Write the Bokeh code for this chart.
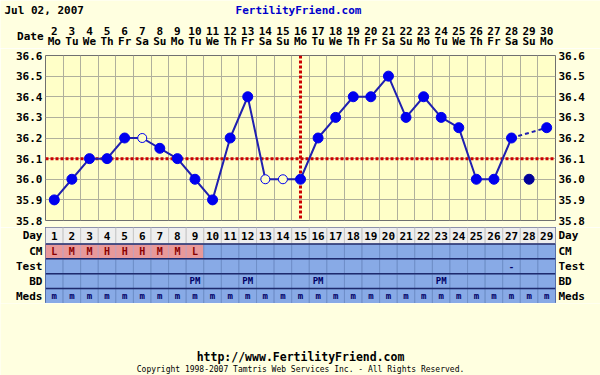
from bokeh.plotting import figure
from bokeh.models import (ColumnDataSource, FixedTicker, LinearAxis, Label, Span,
                          Range1d, NumeralTickFormatter)
from bokeh.layouts import column
from bokeh.embed import file_html
from bokeh.resources import INLINE
from bokeh.core.properties import value

# ---------------- data ----------------
days = list(range(1, 30))
dates = list(range(2, 31))
weekdays = ["Mo", "Tu", "We", "Th", "Fr", "Sa", "Su",
            "Mo", "Tu", "We", "Th", "Fr", "Sa", "Su",
            "Mo", "Tu", "We", "Th", "Fr", "Sa", "Su",
            "Mo", "Tu", "We", "Th", "Fr", "Sa", "Su", "Mo"]
temps = [35.9, 36.0, 36.1, 36.1, 36.2, 36.2, 36.15, 36.1, 36.0, 35.9,
         36.2, 36.4, 36.0, 36.0, 36.0, 36.2, 36.3, 36.4, 36.4, 36.5,
         36.3, 36.4, 36.3, 36.25, 36.0, 36.0, 36.2, 36.0, 36.25]
# f = filled, o = open (excluded), d = discarded (not connected)
marker_kind = ["f", "f", "f", "f", "f", "o", "f", "f", "f", "f",
               "f", "f", "o", "o", "f", "f", "f", "f", "f", "f",
               "f", "f", "f", "f", "f", "f", "f", "d", "f"]
temp_ticks = [35.8, 35.9, 36.0, 36.1, 36.2, 36.3, 36.4, 36.5, 36.6]
coverline = 36.1
ovulation_day = 15

cm = ["L", "M", "M", "H", "H", "H", "M", "M", "L"] + [""] * 20
test = [""] * 26 + ["-", "", ""]
bd_days = [9, 12, 16, 23]
meds = ["m"] * 29
row_names = ["Meds", "BD", "Test", "CM", "Day"]

chart_date = "Jul 02, 2007"
site = "FertilityFriend.com"
url = "http://www.FertilityFriend.com"
copyright_text = "Copyright 1998-2007 Tamtris Web Services Inc. - All Rights Reserved."

# ---------------- style / layout ----------------
BG = "#FFFFE0"
PLOT_BG = "#FFFFC8"
GRID = "#B0B09C"
LINE = "#2020B0"
DOT = "#0000EE"
RED = "#CC0000"
BLUE_CELL = "#88AAE6"
PINK_CELL = "#E8999A"
DAY_CELL = "#EEEEEE"
ROW_LINE = "#1E2A6E"
FONT = "DejaVu Sans Mono"

W = 600
FRAME_L = 45
FRAME_R = 555
N = len(days)
COLW = (FRAME_R - FRAME_L) / N

H1 = 48                  # header (title + dates)
P_TOP, P_FRAME, P_BOT = 7, 165, 7
H2 = P_TOP + P_FRAME + P_BOT   # temperature chart
H3 = 76                  # table
H4 = 375 - H1 - H2 - H3  # footer

COMMON = dict(output_backend="svg", toolbar_location=None,
              x_axis_location=None, y_axis_location=None,
              border_fill_color=BG)


def bold_label(**kw):
    base = dict(x_units="screen", y_units="screen", text_font=FONT,
                text_font_style="bold", text_font_size="11px",
                text_baseline="middle", text_color="black")
    base.update(kw)
    return Label(**base)


# ---------------- header ----------------
h = figure(width=W, height=H1,
           x_range=Range1d(0.5 - FRAME_L / COLW, N + 0.5 + (W - FRAME_R) / COLW),
           y_range=Range1d(H1, 0), frame_align=False,
           min_border=0, background_fill_color=BG, outline_line_color=None, **COMMON)
h.grid.visible = False
hdr = ColumnDataSource(dict(x=days, d=[str(v) for v in dates], w=weekdays))
h.text(x="x", y=30.5, text="d", source=hdr, text_font=value(FONT), text_font_style="bold",
       text_font_size="11px", text_align="center", text_baseline="middle")
h.text(x="x", y=41.3, text="w", source=hdr, text_font=value(FONT), text_font_style="bold",
       text_font_size="11px", text_align="center", text_baseline="middle")
h.add_layout(bold_label(x=4, y=H1 - 10, text=chart_date, text_align="left"))
h.add_layout(bold_label(x=298, y=H1 - 10, text=site, text_align="center",
                        text_color="#0000CC"))
h.add_layout(bold_label(x=43, y=H1 - 36, text="Date", text_align="right"))

# ---------------- temperature chart ----------------
p = figure(width=W, height=H2, x_range=Range1d(0.5, N + 0.5), y_range=Range1d(35.8, 36.6),
           min_border_left=FRAME_L, min_border_right=W - FRAME_R,
           min_border_top=P_TOP, min_border_bottom=P_BOT,
           background_fill_color=PLOT_BG, outline_line_color="#707070", **COMMON)
p.xgrid.ticker = FixedTicker(ticks=[d + 0.5 for d in days[:-1]])
p.ygrid.ticker = FixedTicker(ticks=temp_ticks)
p.grid.grid_line_color = GRID
p.grid.grid_line_width = 1


def style_axis(ax, size="11px"):
    ax.axis_line_color = None
    ax.major_tick_line_color = None
    ax.minor_tick_line_color = None
    ax.major_tick_out = 0
    ax.major_tick_in = 0
    ax.major_label_text_font = FONT
    ax.major_label_text_font_style = "bold"
    ax.major_label_text_font_size = size
    ax.major_label_text_color = "black"
    ax.major_label_standoff = 3


for side in ("left", "right"):
    ax = LinearAxis(ticker=FixedTicker(ticks=temp_ticks),
                    formatter=NumeralTickFormatter(format="0.0"))
    style_axis(ax)
    p.add_layout(ax, side)

p.add_layout(Span(location=coverline, dimension="width", line_color=RED,
                  line_dash="3 2", line_width=3, level="underlay"))
p.add_layout(Span(location=ovulation_day, dimension="height", line_color=RED,
                  line_dash="3 2", line_width=3, level="underlay"))

solid_x = [d for d, k in zip(days, marker_kind) if k != "d" and d <= 27]
solid_y = [temps[d - 1] for d in solid_x]
p.line(solid_x, solid_y, line_color=LINE, line_width=2)
p.line([27, 29], [temps[26], temps[28]], line_color=LINE, line_width=2, line_dash="4 3")

fx = [d for d, k in zip(days, marker_kind) if k == "f"]
fy = [t for t, k in zip(temps, marker_kind) if k == "f"]
ox = [d for d, k in zip(days, marker_kind) if k == "o"]
oy = [t for t, k in zip(temps, marker_kind) if k == "o"]
dx = [d for d, k in zip(days, marker_kind) if k == "d"]
dy = [t for t, k in zip(temps, marker_kind) if k == "d"]
p.scatter(fx, fy, size=10, fill_color=DOT, line_color=DOT)
p.scatter(ox, oy, size=9, fill_color=PLOT_BG, line_color=DOT, line_width=1)
p.scatter(dx, dy, size=10, fill_color="#000099", line_color="#000099")

# ---------------- table ----------------
bd = ["PM" if d in bd_days else "" for d in days]
row_h = {"Meds": 1.0, "BD": 1.0, "Test": 1.0, "CM": 1.0, "Day": 1.1}
bottoms = {}
acc = 0.0
for r in row_names:
    bottoms[r] = acc
    acc += row_h[r]
total_h = acc

q = figure(width=W, height=H3, x_range=p.x_range, y_range=Range1d(0, total_h),
           min_border_left=FRAME_L, min_border_right=W - FRAME_R,
           min_border_top=0, min_border_bottom=0,
           background_fill_color=BLUE_CELL, outline_line_color=ROW_LINE, **COMMON)
q.grid.visible = False

row_values = {"Day": [str(d) for d in days], "CM": cm, "Test": test, "BD": bd, "Meds": meds}
L, R, B, T, FC, LC = [], [], [], [], [], []
TX, TY, TT, TCOL, TSIZE = [], [], [], [], []
for r in row_names:
    for i, d in enumerate(days):
        v = row_values[r][i]
        L.append(d - 0.5)
        R.append(d + 0.5)
        B.append(bottoms[r])
        T.append(bottoms[r] + row_h[r])
        if r == "Day":
            FC.append(DAY_CELL)
            LC.append("#C8C8C8")
        elif r == "CM" and v:
            FC.append(PINK_CELL)
            LC.append("#C8A0B8")
        else:
            FC.append(BLUE_CELL)
            LC.append("#6F8FC8")
        if v:
            TX.append(d)
            TY.append(bottoms[r] + row_h[r] / 2)
            TT.append(v)
            if r == "Day":
                TCOL.append("black")
                TSIZE.append("11px")
            elif r == "CM":
                TCOL.append("#8B0000")
                TSIZE.append("10px")
            else:
                TCOL.append("#000066")
                TSIZE.append("9px")

cells = ColumnDataSource(dict(left=L, right=R, bottom=B, top=T, fill=FC, line=LC))
q.quad(left="left", right="right", bottom="bottom", top="top", source=cells,
       fill_color="fill", line_color="line", line_width=1)
for r in row_names[1:]:
    q.add_layout(Span(location=bottoms[r], dimension="width", line_color=ROW_LINE,
                      line_width=1.5))

texts = ColumnDataSource(dict(x=TX, y=TY, text=TT, color=TCOL, size=TSIZE))
q.text(x="x", y="y", text="text", source=texts, text_color="color",
       text_font=value(FONT), text_font_style="bold", text_font_size="size",
       text_align="center", text_baseline="middle")

row_ticks = [bottoms[r] + row_h[r] / 2 for r in row_names]
for side in ("left", "right"):
    ax = LinearAxis(ticker=FixedTicker(ticks=row_ticks),
                    major_label_overrides={t: r for t, r in zip(row_ticks, row_names)})
    style_axis(ax)
    q.add_layout(ax, side)

# ---------------- footer ----------------
f = figure(width=W, height=H4, x_range=Range1d(0, W), y_range=Range1d(0, H4),
           frame_align=False,
           min_border=0, background_fill_color=BG, outline_line_color=None, **COMMON)
f.grid.visible = False
f.add_layout(bold_label(x=W / 2, y=19, text=url, text_align="center",
                        text_font_size="11.5px"))
f.add_layout(bold_label(x=W / 2, y=6, text=copyright_text, text_align="center",
                        text_font_style="normal", text_font_size="8px"))

page = column(h, p, q, f, spacing=0)
open("out.html", "w").write(file_html(page, INLINE))
